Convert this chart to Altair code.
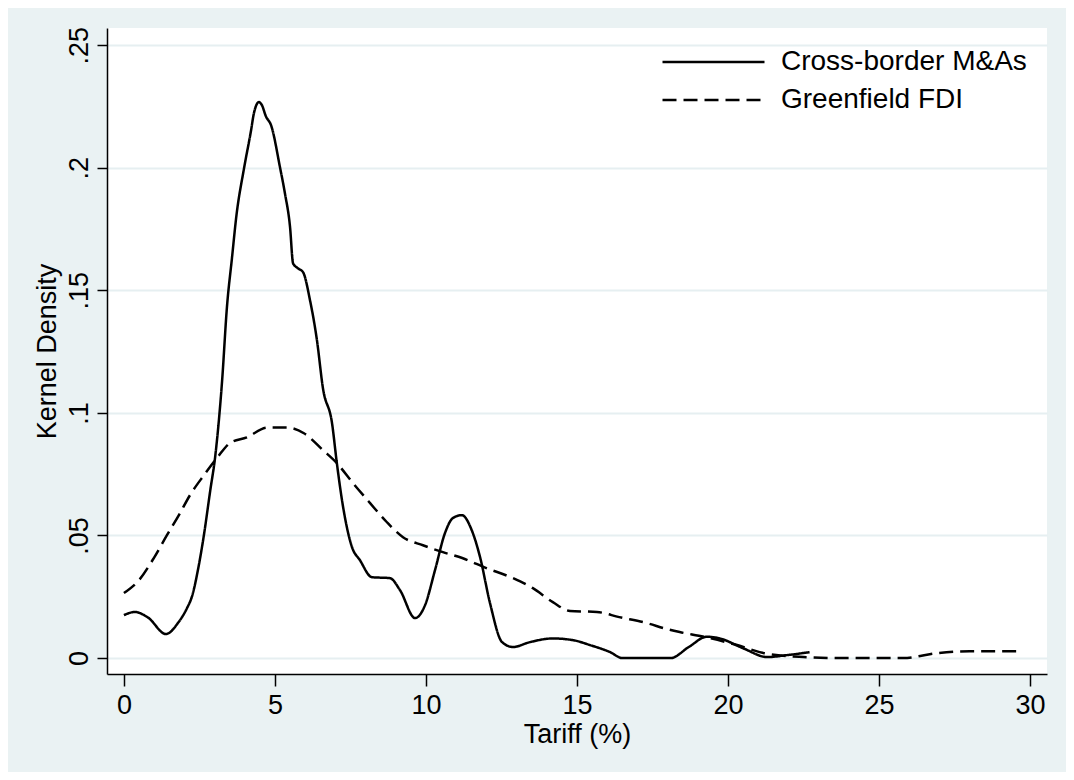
import altair as alt
import pandas as pd

# Cross-border M&As kernel density (solid)
ma_x = [0, 0.36, 0.8, 1.39, 1.8, 2.09, 2.25, 2.47, 2.64, 2.86, 3.02, 3.25, 3.41, 3.58,
        3.72, 3.98, 4.21, 4.30, 4.47, 4.57, 4.70, 4.87, 5.17, 5.33, 5.50, 5.60, 5.76,
        5.93, 6.16, 6.39, 6.59, 6.89, 7.05, 7.22, 7.55, 7.81, 8.21, 8.81, 9.14, 9.64,
        9.97, 10.30, 10.63, 10.89, 11.19, 11.52, 11.79, 12.12, 12.52, 12.88, 13.44,
        14.2, 14.87, 15.43, 16.1, 16.5, 18.1, 18.7, 19.3, 19.7, 20.5, 21.3, 21.95, 22.7]
ma_y = [0.0175, 0.0188, 0.0165, 0.0098, 0.0145, 0.0204, 0.025, 0.0372, 0.0495, 0.0685,
        0.082, 0.113, 0.143, 0.1635, 0.180, 0.200, 0.2153, 0.222, 0.2268, 0.2255,
        0.221, 0.2174, 0.200, 0.1896, 0.1758, 0.161, 0.159, 0.1574, 0.146, 0.1297,
        0.110, 0.0958, 0.0795, 0.0644, 0.0453, 0.040, 0.033, 0.0326, 0.0277, 0.0163,
        0.0216, 0.0359, 0.051, 0.0571, 0.0583, 0.052, 0.0412, 0.0224, 0.0065, 0.0045,
        0.0065, 0.008, 0.0073, 0.0053, 0.0024, 0.0, 0.0, 0.0045, 0.0087, 0.0081, 0.004,
        0.0004, 0.0012, 0.0024]

# Greenfield FDI kernel density (dashed)
gf_x = [0, 0.5, 1.0, 1.42, 1.82, 2.19, 2.65, 3.08, 3.51, 4.07, 4.74, 5.40, 5.96, 6.59,
        7.05, 7.58, 8.15, 8.7, 9.24, 9.9, 10.56, 11.2, 12.0, 12.88, 13.54, 14.2, 14.77,
        15.66, 16.4, 17.3, 17.98, 18.4, 19.2, 20.3, 21.2, 22.5, 23.6, 25.8, 26.9, 28.0,
        29.7]
gf_y = [0.0265, 0.0318, 0.041, 0.050, 0.0583, 0.0665, 0.0746, 0.0816, 0.0877, 0.090,
        0.094, 0.094, 0.0917, 0.0848, 0.0795, 0.0714, 0.0632, 0.0555, 0.0493, 0.046,
        0.0432, 0.0408, 0.0367, 0.0326, 0.0285, 0.0228, 0.0192, 0.0188, 0.0167, 0.0143,
        0.0118, 0.0106, 0.0087, 0.0053, 0.002, 0.0004, 0.0, 0.0, 0.002, 0.0028, 0.0028]

series_names = ["Cross-border M&As", "Greenfield FDI"]
x_ticks = [0, 5, 10, 15, 20, 25, 30]
y_ticks = [0, 0.05, 0.1, 0.15, 0.2, 0.25]

df = pd.concat([
    pd.DataFrame({"tariff": ma_x, "density": ma_y, "series": series_names[0], "order": range(len(ma_x))}),
    pd.DataFrame({"tariff": gf_x, "density": gf_y, "series": series_names[1], "order": range(len(gf_x))}),
])

FONT = "Liberation Sans"
BG = "#EAF2F3"

chart = alt.Chart(df).mark_line(
    color="black", strokeWidth=2.5, interpolate="monotone", clip=True
).encode(
    x=alt.X("tariff:Q",
            scale=alt.Scale(domain=[-0.56, 30.56], nice=False, zero=False),
            axis=alt.Axis(values=x_ticks, title="Tariff (%)", grid=False,
                          tickSize=12, labelPadding=6, labelBaseline="top",
                          titleY=68, titleBaseline="alphabetic")),
    y=alt.Y("density:Q",
            scale=alt.Scale(domain=[-0.0065, 0.257], nice=False, zero=False),
            axis=alt.Axis(values=y_ticks, title="Kernel Density", grid=True,
                          tickSize=10, labelAngle=270, labelAlign="center",
                          labelBaseline="alphabetic", labelPadding=10,
                          labelExpr="datum.value < 0.001 ? '0' : substring(format(datum.value, '.2~f'), 1)",
                          titleX=-52, titleY=323, titleAngle=270,
                          titleAlign="center", titleBaseline="alphabetic")),
    strokeDash=alt.StrokeDash("series:N",
                              scale=alt.Scale(domain=series_names, range=[[1, 0], [14, 7]]),
                              legend=alt.Legend(title=None, orient="none",
                                                legendX=554, legendY=16,
                                                symbolType="stroke", symbolSize=10404,
                                                symbolStrokeWidth=2.5,
                                                symbolStrokeColor="black",
                                                clipHeight=36, rowPadding=2,
                                                labelOffset=15, padding=0,
                                                labelFontSize=28, labelColor="black",
                                                labelFont=FONT, labelLimit=400)),
    order="order:Q",
    detail="series:N",
).properties(
    width=940, height=646,
    background=BG,
    padding={"left": 99, "top": 20, "right": 19, "bottom": 98},
    autosize=alt.AutoSizeParams(type="none"),
).configure(
    font=FONT,
).configure_view(
    fill="white", stroke="transparent", strokeWidth=0,
).configure_axis(
    labelFont=FONT, titleFont=FONT,
    labelFontSize=27, titleFontSize=27,
    labelColor="black", titleColor="black",
    titleFontWeight="normal",
    domainColor="black", domainWidth=1.5,
    tickColor="black", tickWidth=1.5,
    gridColor="#E6EFF1", gridWidth=2,
)

chart.save("out.html", embed_options={"renderer": "svg", "actions": False})
